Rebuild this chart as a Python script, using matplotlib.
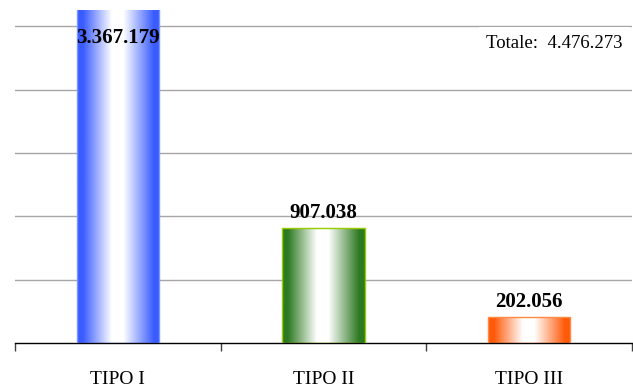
"""Bar chart of totals per tipo, with gradient-filled bars."""

import numpy as np
import matplotlib
matplotlib.use("Agg")
import matplotlib.pyplot as plt
from matplotlib.colors import LinearSegmentedColormap

categories = ["TIPO I", "TIPO II", "TIPO III"]
values = [3367179, 907038, 202056]
value_labels = ["3.367.179", "907.038", "202.056"]
total_label = "Totale:  4.476.273"

edge_colors = ["#3a5cff", "#2e7a22", "#ff5a0a"]
line_colors = ["#7a96ff", "#99cc00", "#ff8a40"]

plt.rcParams["font.family"] = ["Liberation Serif", "DejaVu Serif"]


def gradient_cmap(color):
    """Edge colour -> white -> edge colour, across the bar."""
    return LinearSegmentedColormap.from_list(
        "grad", [(0.0, color), (0.07, color), (0.42, "#ffffff"), (0.56, "#ffffff"),
                 (0.93, color), (1.0, color)]
    )


fig = plt.figure(figsize=(6.33, 3.89), dpi=100)
ax = fig.add_axes([15 / 633, 1 - 343 / 389, 617 / 633, 333 / 389])

ymax = 2630000
ax.set_xlim(-0.5, 2.5)
ax.set_ylim(0, ymax)

ax.set_yticks([500000, 1000000, 1500000, 2000000, 2500000])
ax.yaxis.grid(True, color="#a6a6a6", linewidth=1)
ax.set_axisbelow(True)
ax.tick_params(axis="y", length=0, labelleft=False)

for side in ["left", "right", "top"]:
    ax.spines[side].set_visible(False)
ax.spines["bottom"].set_color("black")
ax.spines["bottom"].set_linewidth(1)

ax.set_xticks(range(len(categories)))
ax.set_xticklabels(categories, fontsize=14)
ax.tick_params(axis="x", which="major", length=0, pad=20)
ax.set_xticks([-0.5, 0.5, 1.5, 2.5], minor=True)
ax.tick_params(axis="x", which="minor", length=6, width=1, color="#404040", direction="out")

bars = ax.bar(range(len(categories)), values, width=0.4, zorder=2)

grad = np.linspace(0, 1, 256).reshape(1, -1)
for bar, ec, lc in zip(bars, edge_colors, line_colors):
    bar.set_facecolor("none")
    bar.set_edgecolor(lc)
    bar.set_linewidth(1)
    bar.set_zorder(3)
    x0, w, h = bar.get_x(), bar.get_width(), bar.get_height()
    im = ax.imshow(grad, cmap=gradient_cmap(ec), aspect="auto",
                   extent=(x0, x0 + w, 0, min(h, ymax)), zorder=2,
                   interpolation="bilinear")

ax.set_xlim(-0.5, 2.5)
ax.set_ylim(0, ymax)

for i, (v, lab) in enumerate(zip(values, value_labels)):
    if v > ymax:
        ax.text(i, ymax * 0.915, lab, ha="center", va="center", fontsize=15,
                fontweight="bold", zorder=4)
    else:
        ax.text(i, v + 40000, lab, ha="center", va="bottom", fontsize=15,
                fontweight="bold", zorder=4)

ax.text(0.764, 0.9, total_label, transform=ax.transAxes, ha="left", va="center",
        fontsize=13.5, zorder=5,
        bbox=dict(boxstyle="square,pad=0.4", facecolor="white", edgecolor="none"))

fig.savefig("out.png", dpi=100, facecolor="white")
